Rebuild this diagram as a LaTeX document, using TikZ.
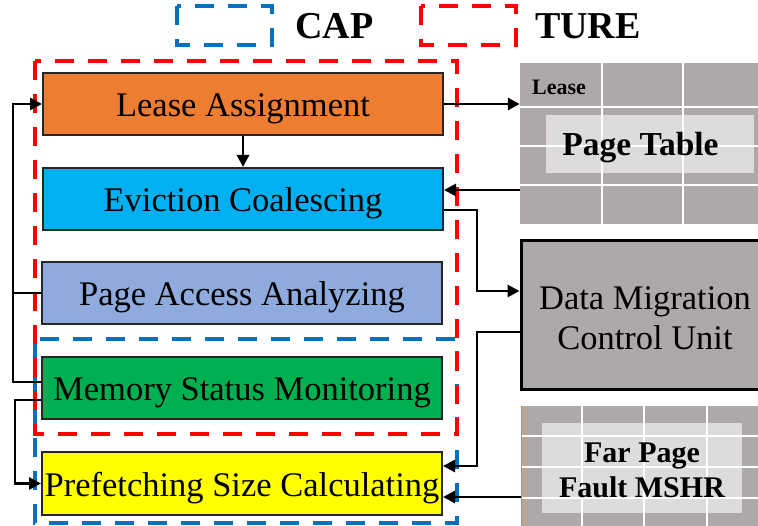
\documentclass[tikz,border=0pt]{standalone}
\usepackage{fontspec}
\setmainfont{Liberation Serif}
\usetikzlibrary{arrows.meta,calc}

\definecolor{leaseorange}{HTML}{ED7D31}
\definecolor{evictblue}{HTML}{00B0F0}
\definecolor{accessblue}{HTML}{8FAADC}
\definecolor{monitorgreen}{HTML}{00B050}
\definecolor{prefyellow}{HTML}{FFFF00}
\definecolor{capblue}{HTML}{0070C0}
\definecolor{turered}{HTML}{FF0000}
\definecolor{hwgray}{HTML}{ADA9A8}
\definecolor{hwlight}{HTML}{DDDBDB}

\tikzset{
  blockbox/.style={draw=black!85, line width=2pt, inner sep=0pt,
    minimum width=400pt, minimum height=62pt, text height=26pt, text depth=0pt,
    font=\fontsize{34.5}{40}\selectfont},
  conn/.style={draw=black, line width=2.8pt,
    -{Triangle[length=12pt,width=12pt]}},
  plainline/.style={draw=black, line width=2.8pt},
  region/.style={line width=4pt, dash pattern=on 19pt off 14pt},
  gridline/.style={draw=white, line width=1.6pt},
  legendtext/.style={font=\fontsize{38}{40}\selectfont\bfseries, anchor=west, inner sep=0pt}
}

\begin{document}
\begin{tikzpicture}[x=1pt, y=-1pt]
\clip (0,0) rectangle (758,526);
\fill[white] (0,0) rectangle (758,526);

% legend
\draw[region, capblue] (177,6) rectangle (272,45);
\node[legendtext] (capl) at (295,26) {CAP};
\draw[region, turered] (421,6) rectangle (516,45);
\node[legendtext] (turel) at (535,26) {TURE};

% function blocks
\node[blockbox, fill=leaseorange]  (la) at (243,104)   {Lease Assignment};
\node[blockbox, fill=evictblue]    (ec) at (243,199)   {Eviction Coalescing};
\node[blockbox, fill=accessblue]   (pa) at (242,293)   {Page Access Analyzing};
\node[blockbox, fill=monitorgreen] (ms) at (242,388)   {Memory Status Monitoring};
\node[blockbox, fill=prefyellow]   (ps) at (242,483.5) {Prefetching Size Calculating};

% grouping regions
\draw[region, capblue] (35,339) rectangle (457,523);
\draw[region, turered] (35,61) rectangle (457,434);

% page table
\node[fill=hwgray, minimum width=242pt, minimum height=161pt, inner sep=0pt] (pt) at (641,143.5) {};
\node[fill=hwlight, minimum width=208pt, minimum height=58pt, inner sep=0pt] (ptin) at (650,144) {};
\foreach \gx in {602,683} \draw[gridline] (\gx,63) -- (\gx,224);
\foreach \gy in {107,146,185} \draw[gridline] (520,\gy) -- (762,\gy);
\node[font=\fontsize{22}{24}\selectfont\bfseries, anchor=base west, inner sep=0pt] (lease) at (532,95) {Lease};
\node[font=\fontsize{33.5}{36}\selectfont\bfseries, anchor=base, inner sep=0pt] (ptl) at (640.5,156) {Page Table};

% data migration control unit
\node[draw=black, line width=3pt, fill=hwgray, minimum width=248pt, minimum height=149pt,
      inner sep=0pt] (dm) at (645,315.5) {};
\node[align=center, inner sep=0pt, font=\fontsize{34.5}{40}\selectfont] (dml) at (645,318.5)
      {Data Migration\\Control Unit};

% far page fault MSHR
\node[fill=hwgray, minimum width=248pt, minimum height=124pt, inner sep=0pt] (fp) at (645.5,468) {};
\node[fill=hwlight, minimum width=200pt, minimum height=90pt, inner sep=0pt] (fpin) at (642,468) {};
\foreach \gx in {582,644,707} \draw[gridline] (\gx,406) -- (\gx,530);
\foreach \gy in {436,467,498} \draw[gridline] (521,\gy) -- (770,\gy);
\draw[leaseorange, line width=0.8pt] (fp.north west) -- (fp.south west);
\node[font=\fontsize{30}{35}\selectfont\bfseries, align=center, inner sep=0pt] (fpl) at (642,470)
      {Far Page\\Fault MSHR};

% connectors
\coordinate (lx) at (13,0);
\coordinate (bus) at (477,0);

\draw[conn] (la.east) -- (la.east -| pt.west);
\draw[conn] (la.south) -- (ec.north);
\draw[conn] ($(pt.west)+(0,46.5)$) -- ($(ec.east)+(0,-9)$);
\draw[conn] ($(ec.east)+(0,11)$) -| (bus |- {$(dm.west)+(0,-24.5)$}) -- ($(dm.west)+(0,-24.5)$);
\draw[conn] ($(dm.west)+(0,16.5)$) -| (bus |- {$(ps.east)+(0,-17.5)$}) -- ($(ps.east)+(0,-17.5)$);
\draw[conn] ($(fp.west)+(0,29)$) -- ($(ps.east)+(0,13.5)$);

\draw[conn] ($(ms.west)+(0,-6)$) -| (lx |- la.west) -- (la.west);
\draw[plainline] (pa.west) -- (pa.west -| lx);
\draw[conn] ($(ms.west)+(0,12)$) -- ++(-26,0) |- (ps.west);
\end{tikzpicture}
\end{document}
